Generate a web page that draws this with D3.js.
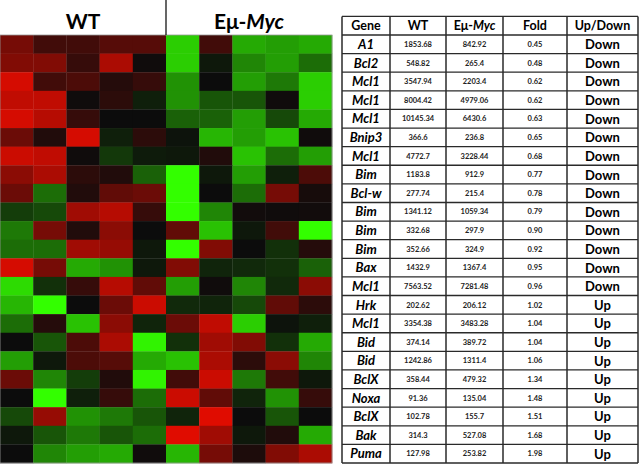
<!DOCTYPE html>
<html>
<head>
<meta charset="utf-8">
<script src="https://cdn.jsdelivr.net/npm/d3@7"></script>
<style>
  body { margin: 0; background: #fff; }
  svg { display: block; font-family: Lato, "Open Sans", sans-serif; }
</style>
</head>
<body>
<div class="container"></div>
<script>
// genes, expression, fold change
var genes = ['A1','Bcl2','Mcl1','Mcl1','Mcl1','Bnip3','Mcl1','Bim','Bcl-w','Bim','Bim','Bim','Bax','Mcl1','Hrk','Mcl1','Bid','Bid','BclX','Noxa','BclX','Bak','Puma'];
var wtVals = [1853.68,548.82,3547.94,8004.42,10145.34,366.6,4772.7,1183.8,277.74,1341.12,332.68,352.66,1432.9,7563.52,202.62,3354.38,374.14,1242.86,358.44,91.36,102.78,314.3,127.98];
var mycVals = [842.92,265.4,2203.4,4979.06,6430.6,236.8,3228.44,912.9,215.4,1059.34,297.9,324.9,1367.4,7281.48,206.12,3483.28,389.72,1311.4,479.32,135.04,155.7,527.08,253.82];
var folds = [0.45,0.48,0.62,0.62,0.63,0.65,0.68,0.77,0.78,0.79,0.90,0.92,0.95,0.96,1.02,1.04,1.04,1.06,1.34,1.48,1.51,1.68,1.98];
var direction = ['Down','Down','Down','Down','Down','Down','Down','Down','Down','Down','Down','Down','Down','Down','Up','Up','Up','Up','Up','Up','Up','Up','Up'];

// heatmap (-1 green .. 0 black .. +1 red), 5 WT columns then 5 Eμ-Myc columns
var heat = [
  [0.5,0.25,0.25,0.35,0.35, -0.8,0.25,-0.65,-0.6,-0.65],
  [0.55,0.55,0.2,0.75,0.02, -0.8,-0.05,-0.5,-0.6,-0.4],
  [0.95,0.25,0.3,0.12,0.2, -0.55,0.0,-0.6,-0.45,-0.8],
  [0.85,0.85,0.02,0.15,-0.08, -0.55,-0.3,-0.3,0.02,-0.8],
  [0.95,0.8,0.2,0.0,0.0, -0.35,-0.35,-0.6,-0.25,-0.65],
  [0.45,0.1,0.95,-0.08,0.15, -0.03,-0.7,-0.6,-0.75,0.02],
  [0.9,0.85,0.02,-0.18,-0.06, -0.05,0.1,-0.75,-0.4,-0.6],
  [0.6,0.75,0.15,0.1,-0.35, -1.0,-0.05,-0.6,-0.08,0.3],
  [0.45,-0.4,0.1,0.4,0.45, -1.0,0.0,-0.4,0.5,0.05],
  [-0.2,-0.25,0.7,0.8,0.2, -1.0,-0.5,0.03,0.02,0.03],
  [-0.45,0.5,0.1,0.6,0.0, 0.4,-0.75,-0.05,0.25,-1.0],
  [-0.4,-0.4,0.7,0.65,-0.05, -1.0,0.55,0.0,-0.15,0.12],
  [0.95,0.5,-0.65,-0.55,-0.05, 0.55,-0.1,-0.12,-0.15,-0.35],
  [-0.85,-0.15,0.2,0.8,0.4, -0.6,0.02,-0.5,-0.12,0.6],
  [-0.7,-1.0,0.0,0.45,0.9, -0.12,-0.1,-0.25,0.4,0.15],
  [-0.4,0.12,-0.75,0.6,-0.1, 0.45,0.85,-0.8,-0.03,-0.08],
  [0.0,-0.3,0.3,0.75,-0.95, -0.15,0.7,0.55,-0.15,-0.65],
  [-0.6,-0.05,0.3,0.35,-0.65, -0.75,0.75,0.15,0.6,-0.5],
  [0.45,-0.5,-0.2,0.1,-0.95, 0.25,0.9,-0.45,0.25,-0.05],
  [0.0,-1.0,-0.08,0.2,-0.4, 0.9,0.4,-0.1,-0.55,0.2],
  [-0.25,0.65,-0.55,-0.45,-0.3, -0.1,1.0,0.0,-0.3,0.0],
  [-0.05,-0.3,-0.45,-0.3,-0.4, 1.0,0.7,-0.05,0.1,-0.65],
  [0.0,-0.5,-0.6,-0.65,0.02, -0.7,0.5,0.08,0.55,0.75]
];

var width = 640, height = 465;
var svg = d3.select('.container').append('svg')
    .attr('width', width)
    .attr('height', height);

var rows = d3.range(genes.length);
var y = d3.scaleBand().domain(rows).range([35, 463]);
var x = d3.scaleBand().domain(d3.range(10)).range([0, 332]);
var color = d3.scaleLinear()
    .domain([-1, 0, 1])
    .range(['#33ff00', '#0c0c0c', '#e00c00'])
    .clamp(true);

var hm = svg.append('g');
hm.selectAll('g.row')
  .data(heat)
  .join('g')
    .attr('class', 'row')
    .attr('transform', function(d, i) { return 'translate(0,' + y(i) + ')'; })
  .selectAll('rect')
  .data(function(d) { return d; })
  .join('rect')
    .attr('x', function(d, j) { return x(j); })
    .attr('width', x.bandwidth() + 0.3)
    .attr('height', y.bandwidth() + 0.3)
    .attr('fill', function(d) { return color(d); });

hm.append('rect')
    .attr('x', 0).attr('y', 35)
    .attr('width', 332).attr('height', 428)
    .attr('fill', 'none')
    .attr('stroke', '#999')
    .attr('stroke-width', 0.8);

// group headers
svg.append('line')
    .attr('x1', x(5)).attr('x2', x(5))
    .attr('y1', 0).attr('y2', 35)
    .style('stroke', '#000')
    .style('stroke-width', 1.2);

svg.append('text')
    .attr('x', (x(0) + x(4) + x.bandwidth()) / 2)
    .attr('y', 29)
    .attr('text-anchor', 'middle')
    .style('font-size', '21px')
    .style('font-weight', 'bold')
    .text('WT');

var myc = svg.append('text')
    .attr('x', (x(5) + x(9) + x.bandwidth()) / 2)
    .attr('y', 29)
    .attr('text-anchor', 'middle')
    .style('font-size', '21px')
    .style('font-weight', 'bold');
myc.append('tspan').text('Eμ-');
myc.append('tspan').style('font-style', 'italic').text('Myc');

// table
var colEdges = [342, 390, 446, 503, 567, 638];
var ty = d3.scaleBand().domain(d3.range(genes.length + 1)).range([35 - y.bandwidth(), 463]);
var tbl = svg.append('g');

var headers = ['Gene', 'WT', 'Eμ-Myc', 'Fold', 'Up/Down'];
var cx = function(c) { return (colEdges[c] + colEdges[c + 1]) / 2; };

// horizontal lines
tbl.selectAll('line.h')
  .data(d3.range(genes.length + 2))
  .join('line')
    .attr('class', 'h')
    .attr('x1', colEdges[0]).attr('x2', colEdges[5])
    .attr('y1', function(i) { return i <= genes.length ? ty(i) : 463; })
    .attr('y2', function(i) { return i <= genes.length ? ty(i) : 463; })
    .style('stroke', '#2a2a2a')
    .style('stroke-width', 1.3);

tbl.selectAll('line.v')
  .data(colEdges)
  .join('line')
    .attr('class', 'v')
    .attr('x1', function(d) { return d; }).attr('x2', function(d) { return d; })
    .attr('y1', ty(0)).attr('y2', 463)
    .style('stroke', '#2a2a2a')
    .style('stroke-width', 1.5);

var mid = function(i) { return ty(i) + ty.bandwidth() / 2; };

var hdr = tbl.selectAll('text.hdr')
  .data(headers)
  .join('text')
    .attr('class', 'hdr')
    .attr('x', function(d, i) { return cx(i); })
    .attr('y', mid(0))
    .attr('dy', '0.36em')
    .attr('text-anchor', 'middle')
    .style('font-size', '12.5px')
    .style('font-weight', 'bold');
hdr.each(function(d) {
  var t = d3.select(this);
  if (d === 'Eμ-Myc') {
    t.append('tspan').text('Eμ-');
    t.append('tspan').style('font-style', 'italic').text('Myc');
  } else {
    t.text(d);
  }
});

var body = tbl.selectAll('g.trow')
  .data(rows)
  .join('g')
    .attr('class', 'trow');

body.append('text')
    .attr('x', cx(0))
    .attr('y', function(i) { return mid(i + 1); })
    .attr('dy', '0.36em')
    .attr('text-anchor', 'middle')
    .style('font-size', '13px')
    .style('font-weight', 'bold')
    .style('font-style', 'italic')
    .text(function(i) { return genes[i]; });

var small = [
  function(i) { return String(wtVals[i]); },
  function(i) { return String(mycVals[i]); },
  function(i) { return d3.format('.2f')(folds[i]); }
];
small.forEach(function(f, c) {
  body.append('text')
      .attr('x', cx(c + 1))
      .attr('y', function(i) { return mid(i + 1); })
      .attr('dy', '0.36em')
      .attr('text-anchor', 'middle')
      .style('font-size', '7.5px')
      .style('font-weight', 'bold')
      .style('fill', '#222')
      .text(f);
});

body.append('text')
    .attr('x', cx(4))
    .attr('y', function(i) { return mid(i + 1); })
    .attr('dy', '0.38em')
    .attr('text-anchor', 'middle')
    .style('font-size', '13px')
    .style('font-weight', 'bold')
    .text(function(i) { return direction[i]; });
</script>
</body>
</html>
